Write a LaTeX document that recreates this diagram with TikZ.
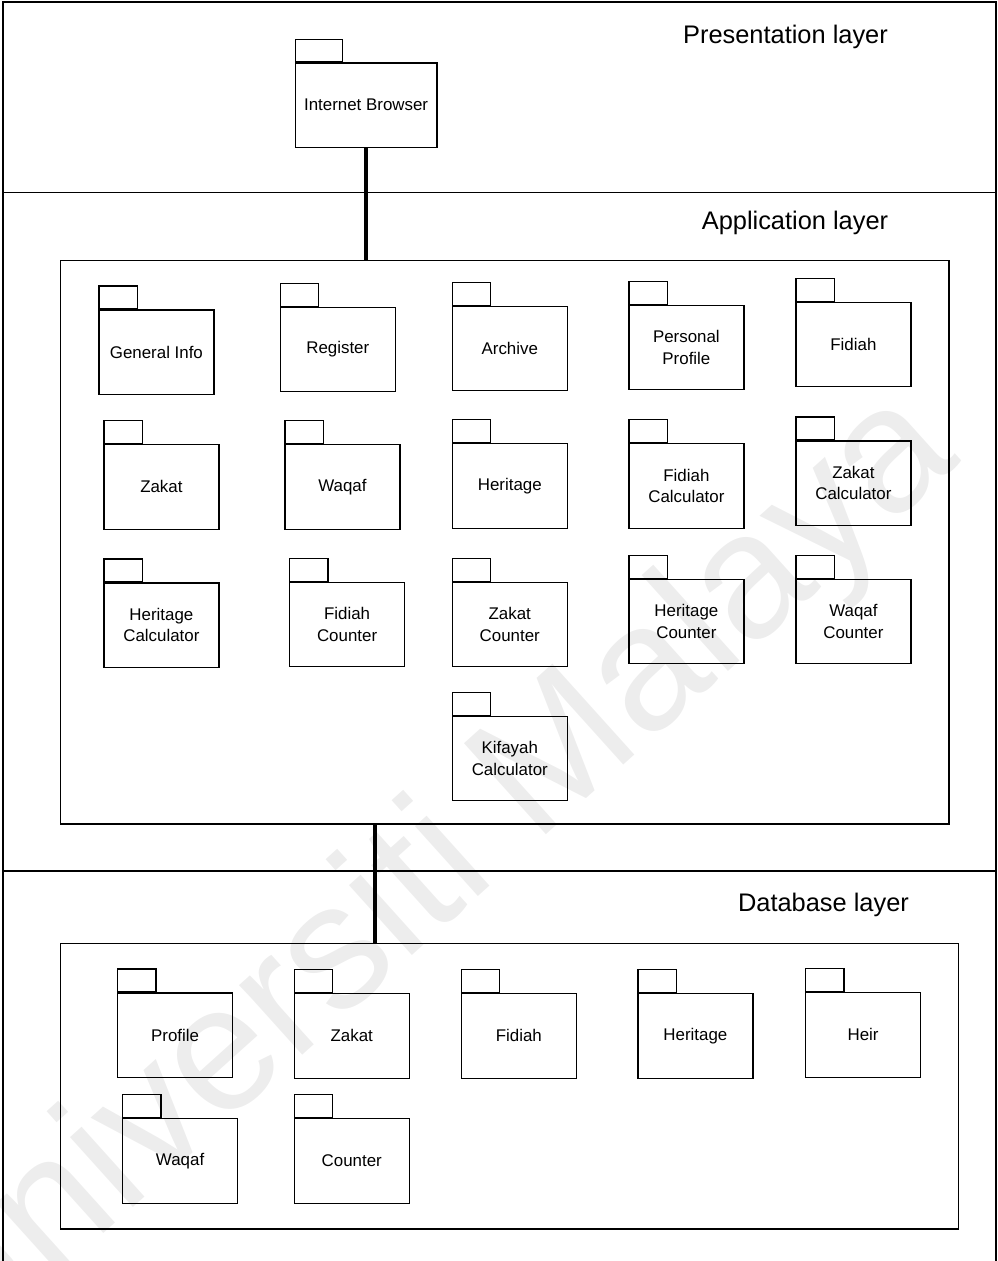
\documentclass[tikz,border=0pt]{standalone}
\usepackage{fontspec}
\setmainfont{Liberation Sans}
\begin{document}
\begin{tikzpicture}[x=1pt, y=-1pt, line width=1.2pt,
  pkgbody/.style={draw, anchor=north west, minimum width=115pt, minimum height=84.5pt,
    inner sep=0pt, align=center, font=\fontsize{16.9}{21.5}\selectfont},
  pkgtab/.style={draw, anchor=south west, minimum width=38.3pt, minimum height=22.7pt, inner sep=0pt},
  layerlabel/.style={anchor=base, inner sep=0pt, font=\fontsize{25.4}{30}\selectfont},
  frame/.style={draw, anchor=north west, inner sep=0pt},
  link/.style={line width=4pt}]
\newcommand\pkg[4]{%
  \node[pkgbody] (#1) at (#2,#3) {#4};
  \node[pkgtab] (#1t) at (#1.north west) {};}
\useasboundingbox (0,0) rectangle (997,1261);

% background watermark
\node[rotate=42, text=black!7, inner sep=0pt, font=\fontsize{178}{178}\selectfont] (wm) at (428,880) {Universiti Malaya};

% outer frame and layer dividers
\draw (3,1261) -- (3,2) -- (996,2) -- (996,1261);
\draw (3,192.7) -- (996,192.7);
\draw (3,871) -- (996,871);

% layer titles
\node[layerlabel] (tpres) at (785.5,43) {Presentation layer};
\node[layerlabel] (tapp) at (795,229) {Application layer};
\node[layerlabel] (tdb) at (823.5,911.7) {Database layer};

% presentation layer
\node[pkgbody, minimum width=141.6pt, minimum height=84.7pt] (browser) at (294.7,62.3) {Internet Browser};
\node[pkgtab, minimum width=47pt, minimum height=22.3pt] (browsert) at (browser.north west) {};

% application layer
\node[frame, minimum width=888.3pt, minimum height=563.3pt] (app) at (60,260) {};
\pkg{geninfo}{98.3}{309.3}{General Info}
\pkg{register}{279.7}{306.7}{Register}
\pkg{archive}{451.7}{305.7}{Archive}
\pkg{personal}{628.3}{304.7}{Personal\\Profile}
\pkg{fidiah}{795.3}{301.7}{Fidiah}
\pkg{zakat}{103.3}{444}{Zakat}
\pkg{waqaf}{284.3}{444}{Waqaf}
\pkg{heritage}{451.7}{443}{Heritage}
\pkg{fidcalc}{628.3}{443}{Fidiah\\Calculator}
\pkg{zakcalc}{795.3}{440.3}{Zakat\\Calculator}
\pkg{hercalc}{103.3}{582.3}{Heritage\\Calculator}
\pkg{fidcount}{289}{581.7}{Fidiah\\Counter}
\pkg{zakcount}{451.7}{581.7}{Zakat\\Counter}
\pkg{hercount}{628.3}{578.7}{Heritage\\Counter}
\pkg{waqcount}{795.3}{578.7}{Waqaf\\Counter}
\pkg{kifayah}{451.7}{715.7}{Kifayah\\Calculator}

% database layer
\node[frame, minimum width=897.7pt, minimum height=285.3pt] (db) at (60,943) {};
\pkg{profile}{117}{992.3}{Profile}
\pkg{dbzakat}{293.7}{993}{Zakat}
\pkg{dbfidiah}{460.7}{993}{Fidiah}
\pkg{dbheritage}{637.3}{993}{Heritage}
\pkg{heir}{805}{992}{Heir}
\pkg{dbwaqaf}{122}{1118}{Waqaf}
\pkg{counter}{293.7}{1118}{Counter}

% links between layers
\coordinate (lk) at (375,900);
\draw[link] (browser.south) -- (browser.south |- app.north);
\draw[link] (lk |- app.south) -- (lk |- db.north);
\end{tikzpicture}
\end{document}
